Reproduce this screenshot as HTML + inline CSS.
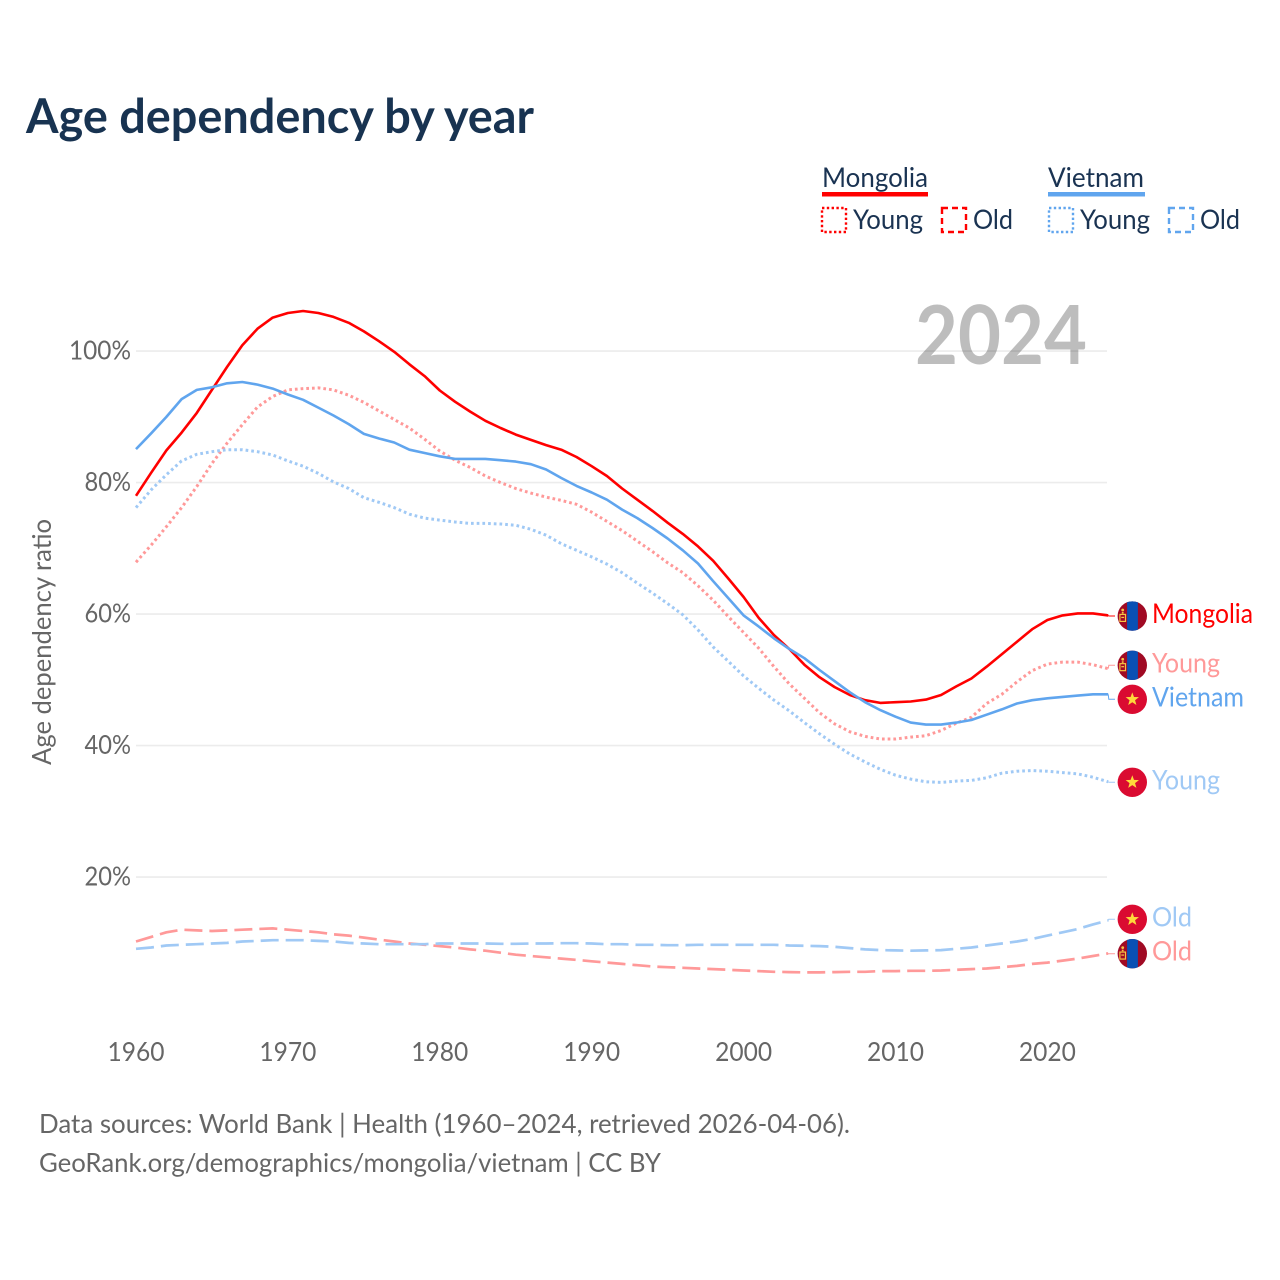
<!DOCTYPE html>
<html lang="en">
<head>
<meta charset="utf-8">
<title>Age dependency by year</title>
<style>
html,body{margin:0;padding:0;background:#fff;width:1280px;height:1280px;overflow:hidden}
svg{display:block}
text{font-family:"Lato","Carlito","Liberation Sans",sans-serif}
</style>
</head>
<body>
<svg id="chart" xmlns="http://www.w3.org/2000/svg" width="1280" height="1280" viewBox="0 0 1280 1280">
  <rect x="0" y="0" width="1280" height="1280" fill="#fff"/>
  <text x="26" y="133" font-size="48" font-weight="700" fill="#183351" textLength="508" lengthAdjust="spacingAndGlyphs">Age dependency by year</text>

  <g font-size="27" fill="#1a3352">
    <text x="822" y="187" textLength="106" lengthAdjust="spacingAndGlyphs">Mongolia</text>
    <rect x="822" y="192" width="106" height="4.5" fill="#ff0000"/>
    <rect x="822" y="208" width="24" height="24" fill="none" stroke="#ff0000" stroke-width="2.4" stroke-dasharray="2.4 2.4"/>
    <text x="853" y="229" textLength="70" lengthAdjust="spacingAndGlyphs">Young</text>
    <rect x="942" y="208" width="24" height="24" fill="none" stroke="#ff0000" stroke-width="2.4" stroke-dasharray="6 4"/>
    <text x="973" y="229" textLength="40" lengthAdjust="spacingAndGlyphs">Old</text>
    <text x="1048" y="187" textLength="96" lengthAdjust="spacingAndGlyphs">Vietnam</text>
    <rect x="1048" y="192" width="97" height="4.5" fill="#60a5ee"/>
    <rect x="1049" y="208" width="24" height="24" fill="none" stroke="#60a5ee" stroke-width="2.4" stroke-dasharray="2.4 2.4"/>
    <text x="1080" y="229" textLength="70" lengthAdjust="spacingAndGlyphs">Young</text>
    <rect x="1169" y="208" width="24" height="24" fill="none" stroke="#60a5ee" stroke-width="2.4" stroke-dasharray="6 4"/>
    <text x="1200" y="229" textLength="40" lengthAdjust="spacingAndGlyphs">Old</text>
  </g>

  <g id="grid"></g>
  <g id="yticks" font-size="26" fill="#666" text-anchor="end"></g>
  <g id="xticks" font-size="26" fill="#666" text-anchor="middle"></g>
  <text transform="translate(51,765) rotate(-90)" font-size="26" fill="#666" textLength="246" lengthAdjust="spacingAndGlyphs">Age dependency ratio</text>
  <text x="1087" y="364" font-size="81" font-weight="700" fill="#000" fill-opacity="0.26" text-anchor="end" textLength="172" lengthAdjust="spacingAndGlyphs">2024</text>

  <g id="series" fill="none"></g>
  <g id="endmarks"></g>

  <text x="39" y="1133" font-size="26" fill="#666" textLength="811" lengthAdjust="spacingAndGlyphs">Data sources: World Bank | Health (1960–2024, retrieved 2026-04-06).</text>
  <text x="39" y="1172" font-size="26" fill="#666" textLength="622" lengthAdjust="spacingAndGlyphs">GeoRank.org/demographics/mongolia/vietnam | CC BY</text>
</svg>
<script>
const startYear = 1960;
const xTickYears = [1960, 1970, 1980, 1990, 2000, 2010, 2020];
const yTickValues = [20, 40, 60, 80, 100];

const mongoliaTotal = [
  78.0,81.5,84.9,87.6,90.6,94.1,97.6,100.9,103.4,105.1,
  105.8,106.1,105.8,105.2,104.3,103.0,101.5,99.9,98.0,96.2,
  94.0,92.3,90.8,89.4,88.3,87.3,86.5,85.7,85.0,83.9,
  82.5,81.0,79.1,77.4,75.7,73.9,72.2,70.3,68.1,65.4,
  62.6,59.4,56.8,54.7,52.3,50.4,48.9,47.7,46.9,46.5,
  46.6,46.7,47.0,47.7,49.0,50.2,52.0,53.9,55.8,57.7,
  59.1,59.8,60.1,60.1,59.8];
const vietnamTotal = [
  85.1,87.5,90.0,92.7,94.1,94.5,95.1,95.3,94.9,94.3,
  93.4,92.6,91.4,90.2,88.9,87.4,86.7,86.1,85.0,84.5,
  84.0,83.6,83.6,83.6,83.4,83.2,82.8,82.0,80.7,79.5,
  78.5,77.4,75.9,74.6,73.1,71.5,69.7,67.7,65.0,62.4,
  59.8,58.1,56.3,54.7,53.3,51.5,49.8,48.1,46.6,45.4,
  44.4,43.5,43.2,43.2,43.5,43.9,44.7,45.5,46.4,46.9,
  47.2,47.4,47.6,47.8,47.8];
const mongoliaYoung = [
  67.9,70.5,73.3,76.2,79.4,82.9,86.0,88.8,91.5,93.1,
  94.1,94.3,94.4,94.1,93.3,92.2,90.9,89.6,88.3,86.6,
  84.8,83.4,82.3,81.0,80.0,79.1,78.4,77.8,77.3,76.7,
  75.5,74.1,72.7,71.1,69.5,67.8,66.3,64.3,62.1,59.6,
  57.2,54.8,52.0,49.4,47.2,45.0,43.3,42.1,41.4,41.0,
  41.0,41.3,41.5,42.3,43.4,44.3,46.4,47.8,49.7,51.4,
  52.4,52.7,52.7,52.3,51.7];
const vietnamYoung = [
  76.2,78.9,81.2,83.3,84.3,84.7,85.0,85.0,84.7,84.2,
  83.3,82.5,81.4,80.1,79.1,77.7,77.0,76.2,75.2,74.6,
  74.3,74.0,73.8,73.8,73.7,73.5,72.9,72.0,70.7,69.7,
  68.7,67.6,66.3,64.7,63.2,61.6,59.9,57.6,55.0,52.8,
  50.6,48.7,46.9,45.3,43.5,41.8,40.2,38.7,37.5,36.4,
  35.5,34.9,34.5,34.4,34.6,34.7,35.1,35.8,36.1,36.2,
  36.1,35.9,35.7,35.2,34.5];
const mongoliaOld = [
  10.2,10.9,11.6,12.0,11.9,11.8,11.9,12.0,12.1,12.2,
  12.0,11.8,11.6,11.3,11.1,10.8,10.5,10.2,9.9,9.7,
  9.5,9.3,9.0,8.8,8.5,8.2,8.0,7.8,7.6,7.4,
  7.2,7.0,6.8,6.6,6.4,6.3,6.2,6.1,6.0,5.9,
  5.8,5.7,5.6,5.55,5.5,5.5,5.55,5.6,5.6,5.7,
  5.7,5.75,5.75,5.8,5.9,6.0,6.1,6.3,6.5,6.8,
  7.0,7.3,7.6,8.0,8.4];
const vietnamOld = [
  9.1,9.3,9.6,9.7,9.8,9.9,10.0,10.2,10.3,10.4,
  10.4,10.4,10.3,10.2,10.0,9.9,9.8,9.8,9.8,9.8,
  9.9,9.9,9.9,9.9,9.85,9.85,9.9,9.9,9.95,9.95,
  9.9,9.8,9.8,9.7,9.7,9.65,9.65,9.7,9.7,9.7,
  9.7,9.7,9.7,9.6,9.55,9.5,9.4,9.2,9.0,8.9,
  8.85,8.8,8.85,8.9,9.1,9.3,9.6,9.9,10.2,10.6,
  11.1,11.6,12.1,12.8,13.4];

const NS = 'http://www.w3.org/2000/svg';
const xOf = year => 136 + (year - 1960) * 15.19;
const yOf = value => 1008.6 - value * 6.575;

function mk(parent, tag, attrs) {
  const el = document.createElementNS(NS, tag);
  for (const k in attrs) el.setAttribute(k, attrs[k]);
  parent.appendChild(el);
  return el;
}

const gridG = document.getElementById('grid');
const yTickG = document.getElementById('yticks');
yTickValues.forEach(v => {
  const line = mk(gridG, 'line', {x1: 136, x2: 1107, y1: yOf(v), y2: yOf(v), stroke: '#ececec', 'stroke-width': 1.6});
  
  
  const label = v + '%';
  const t = mk(yTickG, 'text', {x: 131, y: yOf(v) + 8.5, textLength: label.length * 15.5, lengthAdjust: 'spacingAndGlyphs'});
  
  
  t.textContent = label;
});

const xTickG = document.getElementById('xticks');
xTickYears.forEach(yr => {
  const t = mk(xTickG, 'text', {x: xOf(yr), y: 1061, textLength: 57, lengthAdjust: 'spacingAndGlyphs'});
  
  
  t.textContent = yr;
});

const BLUE = '#60a5ee';
const RED = '#ff0000';
const LIGHT_BLUE = '#a0c9f5';
const LIGHT_RED = '#ff9999';
const DOT = '2.7 3';
const DASH = '18 7';

const seriesG = document.getElementById('series');
function drawLine(values, color, dash, width) {
  const pts = values.map((v, i) => xOf(startYear + i).toFixed(1) + ',' + yOf(v).toFixed(1)).join(' ');
  const attrs = {points: pts, stroke: color, 'stroke-width': width, 'stroke-linejoin': 'round'};
  if (dash) attrs['stroke-dasharray'] = dash;
  return mk(seriesG, 'polyline', attrs);
}

const lineMonOld = drawLine(mongoliaOld, LIGHT_RED, DASH, 2.7);


const lineVieOld = drawLine(vietnamOld, LIGHT_BLUE, DASH, 2.7);


const lineMonYoung = drawLine(mongoliaYoung, LIGHT_RED, DOT, 3);


const lineVieYoung = drawLine(vietnamYoung, LIGHT_BLUE, DOT, 3);


const lineMon = drawLine(mongoliaTotal, RED, null, 2.6);


const lineVie = drawLine(vietnamTotal, BLUE, null, 2.6);



const endG = document.getElementById('endmarks');
const defs = mk(endG, 'defs', {});
let clipCount = 0;

function drawMongoliaFlag(g, cx, cy) {
  const id = 'flagclip' + (clipCount++);
  const cp = mk(defs, 'clipPath', {id: id});
  mk(cp, 'circle', {cx: cx, cy: cy, r: 14.7});
  const f = mk(g, 'g', {'clip-path': 'url(#' + id + ')'});
  mk(f, 'rect', {x: cx - 15, y: cy - 15, width: 30, height: 30, fill: '#a00a24'});
  mk(f, 'rect', {x: cx - 5.2, y: cy - 15, width: 10.8, height: 30, fill: '#0a50b4'});
  mk(f, 'rect', {x: cx - 12.4, y: cy - 1.6, width: 5.6, height: 7, fill: 'none', stroke: '#f6c544', 'stroke-width': 1.2});
  mk(f, 'rect', {x: cx - 11, y: cy + 0.8, width: 2.8, height: 1.2, fill: '#f6c544'});
  mk(f, 'circle', {cx: cx - 9.6, cy: cy - 6, r: 1.4, fill: '#f6c544'});
  mk(f, 'rect', {x: cx - 10.5, y: cy - 4, width: 1.8, height: 1.6, fill: '#f6c544'});
}

function drawVietnamFlag(g, cx, cy) {
  mk(g, 'circle', {cx: cx, cy: cy, r: 14.7, fill: '#da0b31'});
  const pts = [];
  for (let i = 0; i < 10; i++) {
    const r = i % 2 ? 2.9 : 7;
    const a = -Math.PI / 2 + i * Math.PI / 5;
    pts.push((cx + r * Math.cos(a)).toFixed(2) + ',' + (cy + r * Math.sin(a)).toFixed(2));
  }
  mk(g, 'polygon', {points: pts.join(' '), fill: '#ffd93b'});
}

function endMark(values, nudge, color, text, width, flag) {
  const last = values[values.length - 1];
  const y0 = yOf(last);
  const fy = y0 + nudge;
  const g = mk(endG, 'g', {});
  const leader = mk(g, 'polyline', {
    points: xOf(2024).toFixed(1) + ',' + y0.toFixed(1) + ' ' + (xOf(2024) + 0.6).toFixed(1) + ',' + fy.toFixed(1) + ' 1115,' + fy.toFixed(1),
    fill: 'none', stroke: color, 'stroke-width': 1
  });
  
  
  flag(g, 1132.3, fy);
  const t = mk(g, 'text', {x: 1152, y: fy + 7, 'font-size': 27, fill: color, textLength: width, lengthAdjust: 'spacingAndGlyphs'});
  t.textContent = text;
  return {group: g, label: t};
}

const endMon = endMark(mongoliaTotal, 0.6, RED, 'Mongolia', 101, drawMongoliaFlag);





const endMonYoung = endMark(mongoliaYoung, -3.4, LIGHT_RED, 'Young', 68, drawMongoliaFlag);





const endVie = endMark(vietnamTotal, 5, BLUE, 'Vietnam', 92, drawVietnamFlag);





const endVieYoung = endMark(vietnamYoung, 0.5, LIGHT_BLUE, 'Young', 68, drawVietnamFlag);





const endVieOld = endMark(vietnamOld, -1.2, LIGHT_BLUE, 'Old', 40, drawVietnamFlag);





const endMonOld = endMark(mongoliaOld, 0.3, LIGHT_RED, 'Old', 40, drawMongoliaFlag);




</script>
</body>
</html>
